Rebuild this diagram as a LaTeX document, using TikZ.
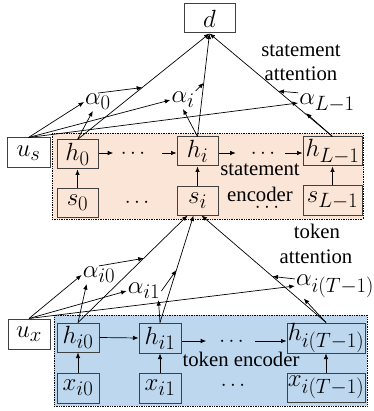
\documentclass[tikz,border=0pt]{standalone}
\usepackage{fontspec}
\setmainfont{Liberation Serif}
\usetikzlibrary{arrows.meta,calc}
\definecolor{orfill}{HTML}{FBE5D6}
\definecolor{blfill}{HTML}{BDD7EE}
\definecolor{bordergray}{HTML}{404040}
\tikzset{
  mathf/.style={font=\fontsize{24.88}{28}\selectfont},
  box/.style={draw=bordergray, line width=1pt, inner sep=0pt, minimum height=29pt, mathf},
  wbox/.style={box, fill=white},
  encbox/.style={draw=black, densely dotted, line width=0.7pt, inner sep=0pt},
  conn/.style={line width=0.7pt, -{Latex[length=5.5pt,width=4.5pt]}},
  lbl/.style={inner sep=1pt, mathf},
  txt/.style={anchor=base, inner sep=0pt},
  dotsn/.style={inner sep=0pt, text height=10.5pt, text depth=0pt},
}
\begin{document}
\begin{tikzpicture}[x=1pt,y=-1pt,font=\fontsize{20.74}{24}\selectfont]
\useasboundingbox (0,0) rectangle (373,411);
% encoder backgrounds
\node[encbox, fill=orfill, minimum width=311pt, minimum height=86pt] (senc) at (207.5,176) {};
\node[encbox, fill=blfill, minimum width=313pt, minimum height=91pt] (tenc) at (210.5,360.5) {};
% top
\node[wbox, minimum width=51pt] (d) at (209.5,18.5) {$d$};
% statement level
\node[wbox, minimum width=43pt, minimum height=30pt] (us) at (28.5,153) {$u_s$};
\node[box, minimum width=41pt] (h0) at (77.5,154.5) {$h_0$};
\node[box, minimum width=41pt] (hi) at (197.5,151.5) {$h_i$};
\node[box, minimum width=59pt] (hL) at (332.5,151.5) {$h_{L-1}$};
\node[box, minimum width=41pt, minimum height=28pt] (s0) at (77.5,203) {$s_0$};
\node[box, minimum width=41pt, minimum height=28pt] (si) at (197.5,201) {$s_i$};
\node[box, minimum width=59pt] (sL) at (332.5,200.5) {$s_{L-1}$};
\node[dotsn] (dh1) at (133,153) {$\cdots$};
\node[dotsn] (dh2) at (263,153) {$\cdots$};
\node[dotsn] (ds1) at (137,202) {$\cdots$};
\node[dotsn] (ds2) at (267,207) {$\cdots$};
% token level
\node[wbox, minimum width=42pt, minimum height=30pt] (ux) at (29,334) {$u_x$};
\node[box, minimum width=42pt] (hi0) at (78,337.5) {$h_{i0}$};
\node[box, minimum width=42pt, minimum height=30pt] (hi1) at (160,338) {$h_{i1}$};
\node[box, minimum width=78pt, minimum height=30pt] (hiT) at (326,338) {$h_{i(T-1)}$};
\node[box, minimum width=42pt, minimum height=30pt] (xi0) at (78,388) {$x_{i0}$};
\node[box, minimum width=42pt, minimum height=30pt] (xi1) at (160,388) {$x_{i1}$};
\node[box, minimum width=78pt] (xiT) at (326,387.5) {$x_{i(T-1)}$};
\node[dotsn] (dt1) at (231.5,341) {$\cdots$};
\node[dotsn] (dx1) at (233,385) {$\cdots$};
% texts
\node[txt] (tsa1) at (301,57) {statement};
\node[txt] (tsa2) at (301,81) {attention};
\node[txt] (tse1) at (260,176) {statement};
\node[txt] (tse2) at (260,202) {encoder};
\node[txt] (tta1) at (317,238) {token};
\node[txt] (tta2) at (316,263) {attention};
\node[txt] (tte) at (241,366) {token encoder};
% attention labels
\node[lbl] (a0) at (98,102) {$\alpha_0$};
\node[lbl] (ai) at (183,100) {$\alpha_i$};
\node[lbl] (aL) at (327,103) {$\alpha_{L-1}$};
\node[lbl] (ai0) at (99,275) {$\alpha_{i0}$};
\node[lbl] (ai1) at (144,291) {$\alpha_{i1}$};
\node[lbl] (aiT) at (335,286) {$\alpha_{i(T-1)}$};
% statement encoder chain
\draw[conn] (h0.east |- dh1.west) -- ([xshift=-7.5pt]dh1.west);
\draw[conn] ([xshift=17pt]dh1.east) -- (hi.west |- dh1.east);
\draw[conn] (hi.east |- dh2.west) -- ([xshift=-15pt]dh2.west);
\draw[conn] ([xshift=10pt]dh2.east) -- (hL.west |- dh2.east);
\draw[conn] (s0) -- (h0);
\draw[conn] (si) -- (hi);
\draw[conn] (sL) -- (hL);
% statement attention
\draw[conn] (h0.north) -- (d.south);
\draw[conn] (hi.north) -- (d.south);
\draw[conn] (hL.north) -- (d.south);
\draw[conn] (us.north) -- (a0.west);
\draw[conn] (us.north) -- (ai.west);
\draw[conn] (us.north) -- (aL.west);
\draw[conn] (h0.north) -- (a0.240);
\draw[conn] (hi.north) -- (ai.south);
\draw[conn] (hL.north) -- ([xshift=8pt]aL.south west);
\draw[conn] (a0.north) -- ($(h0.north)!0.49!(d.south)$);
\draw[conn] (ai.north east) -- ($(hi.north)!0.52!(d.south)$);
\draw[conn] (aL.north west) -- ($(hL.north)!0.44!(d.south)$);
% token encoder chain
\draw[conn] (hi0.east) -- (hi1.west);
\draw[conn] (hi1.east |- dt1.west) -- ([xshift=-13pt]dt1.west);
\draw[conn] ([xshift=11pt]dt1.east) -- (hiT.west |- dt1.east);
\draw[conn] (xi0) -- (hi0);
\draw[conn] (xi1) -- (hi1);
\draw[conn] (xiT) -- (hiT);
% token attention
\coordinate (t0) at ([xshift=-10pt]si.south);
\coordinate (t1) at ([xshift=-4pt]si.south);
\coordinate (t2) at ([xshift=4pt]si.south);
\draw[conn] (hi0.north) -- (t0);
\draw[conn] (hi1.north) -- (t1);
\draw[conn] (hiT.north) -- (t2);
\draw[conn] (ux.north) -- (ai0.west);
\draw[conn] (ux.north) -- (ai1.west);
\draw[conn] (ux.north) -- (aiT.west);
\draw[conn] (hi0.north) -- ([xshift=5pt]ai0.south west);
\draw[conn] (hi1.north) -- ([xshift=-3pt]ai1.south east);
\draw[conn] (hiT.north) -- ([xshift=9pt]aiT.south west);
\draw[conn] (ai0.north) -- ($(hi0.north)!0.6!(t0)$);
\draw[conn] (ai1.east) -- ($(hi1.north)!0.49!(t1)$);
\draw[conn] (aiT.170) -- ($(hiT.north)!0.43!(t2)$);
\end{tikzpicture}
\end{document}
